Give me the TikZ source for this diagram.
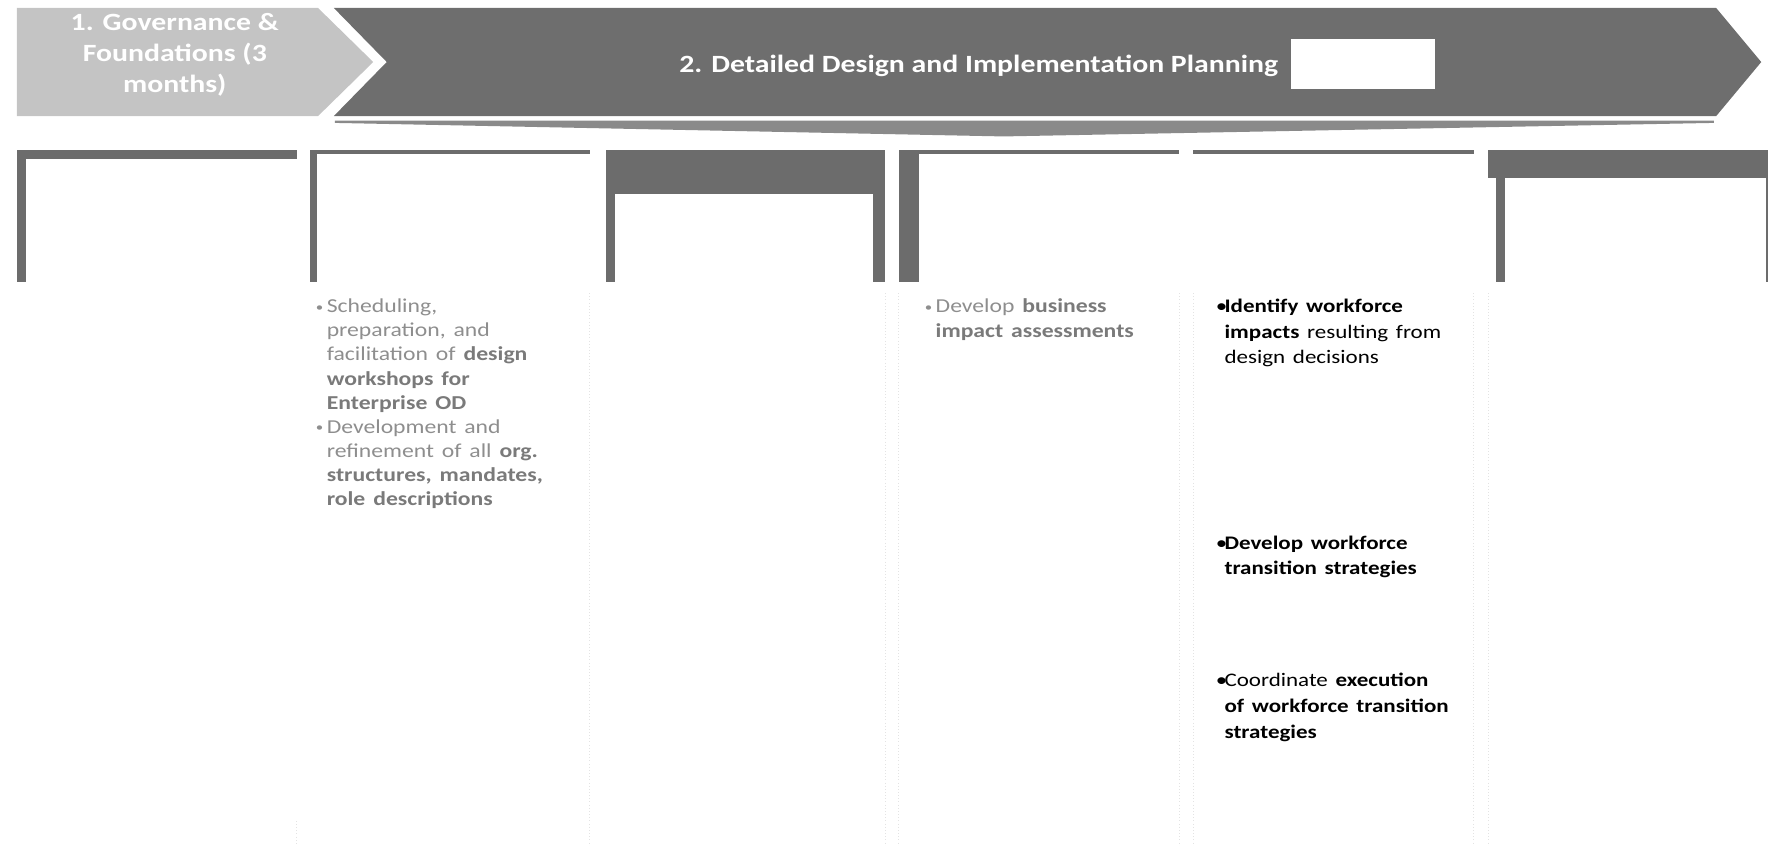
\documentclass[tikz,border=0pt]{standalone}
\usepackage{fontspec}
\setmainfont{Carlito}
\usepackage{tikz}

\definecolor{govgrey}{HTML}{C4C4C4}
\definecolor{phasegrey}{HTML}{6E6E6E}
\definecolor{bandgrey}{HTML}{8A8A8A}
\definecolor{hdrgrey}{HTML}{6C6C6C}
\definecolor{softtext}{HTML}{8E8E8E}
\definecolor{softbold}{HTML}{7A7A7A}
\definecolor{rulegrey}{HTML}{E3E3E3}

\tikzset{
  wide/.style={xscale=1.2, transform shape},
  phasetext/.style={wide, text=white, inner sep=0pt, align=center,
    font=\fontsize{22}{27.5}\selectfont\bfseries},
  softbox/.style={wide, anchor=north west, inner sep=0pt, text width=200pt, align=left,
    text=softtext, font=\fontsize{17.5}{21.4}\selectfont},
  taskbox/.style={wide, anchor=north west, inner sep=0pt, text width=200pt, align=left,
    text=black, font=\fontsize{17}{22.8}\selectfont},
  colrule/.style={rulegrey, dotted, line width=0.8pt}
}

\newcommand{\softbul}{\noindent\hangindent=8pt\hangafter=1%
  \makebox[8pt][l]{\raisebox{1.5pt}{\fontsize{11}{11}\selectfont\textbullet}}}
\newcommand{\taskbul}{\noindent\hangindent=6.5pt\hangafter=1\makebox[6.5pt][l]{\textbullet}}
\newcommand{\softhl}[1]{\textcolor{softbold}{\bfseries #1}}

\begin{document}
\begin{tikzpicture}[x=1pt, y=-1pt]
	\useasboundingbox (0,0) rectangle (1568,750);

	% phase arrows
	\fill[govgrey] (15,7) -- (282,7) -- (331,55) -- (282,103) -- (15,103) -- cycle;
	\fill[phasegrey] (296,7) -- (1522,7) -- (1562,55) -- (1522,103) -- (296,103) -- (343,55) -- cycle;
	\fill[bandgrey] (297,107) -- (1520,107) -- (1520,109) -- (890,121) -- (297,109) -- cycle;

	\node[phasetext] (gov) at (155,49) {1. Governance \&\\Foundations (3\\months)};
	\node[phasetext] (design) at (868,58) {2. Detailed Design and Implementation Planning};
	\node[fill=white, minimum width=128pt, minimum height=44pt, inner sep=0pt] (dates) at (1209,57) {};

	% column headers
	\fill[hdrgrey] (15,133) rectangle (263,141);
	\fill[hdrgrey] (15,133) rectangle (23,250);
	\fill[hdrgrey] (275,133) rectangle (523,137);
	\fill[hdrgrey] (275,133) rectangle (281,250);
	\fill[hdrgrey] (537,133) rectangle (785,172);
	\fill[hdrgrey] (537,133) rectangle (545,250);
	\fill[hdrgrey] (774,133) rectangle (785,250);
	\fill[hdrgrey] (797,133) rectangle (1046,137);
	\fill[hdrgrey] (797,133) rectangle (815,250);
	\fill[hdrgrey] (1058,133) rectangle (1307,137);
	\fill[hdrgrey] (1320,133) rectangle (1568,158);
	\fill[hdrgrey] (1327,133) rectangle (1335,250);
	\fill[hdrgrey] (1566,133) rectangle (1568,250);

	% column rules
	\foreach \x in {523,785,797,1046,1058,1307,1320}
		\draw[colrule] (\x,260) -- (\x,750);
	\draw[colrule] (263,728) -- (263,750);

	% column text
	\node[softbox] (workshops) at (280,265) {\softbul Scheduling,\newline preparation, and\newline
		facilitation of \softhl{design}\newline \softhl{workshops for}\newline \softhl{Enterprise OD}\par
		\softbul Development and\newline refinement of all \softhl{org.}\newline
		\softhl{structures, mandates,}\newline \softhl{role descriptions}\par};
	\node[softbox] (impact) at (820,265) {\softbul Develop \softhl{business}\newline \softhl{impact assessments}\par};

	\node[taskbox] (identify) at (1078,265) {\taskbul\textbf{Identify workforce}\newline
		\textbf{impacts} resulting from\newline design decisions\par};
	\node[taskbox] (transition) at (1078,475) {\taskbul\textbf{Develop workforce}\newline
		\textbf{transition strategies}\par};
	\node[taskbox] (execution) at (1078,597) {\taskbul Coordinate \textbf{execution}\newline
		\textbf{of workforce transition}\newline \textbf{strategies}\par};

\end{tikzpicture}
\end{document}
